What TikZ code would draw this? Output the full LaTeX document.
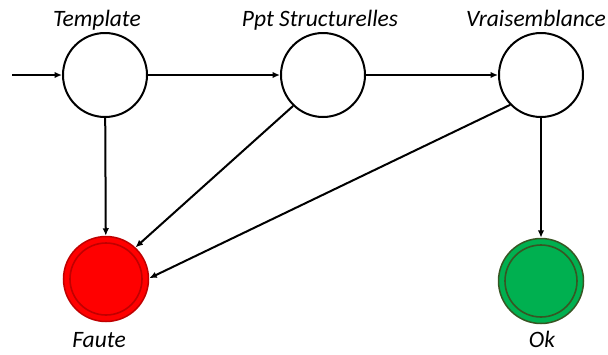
\documentclass[tikz,border=0pt]{standalone}
\usepackage{fontspec}
\setmainfont{Carlito}
\usetikzlibrary{arrows.meta}
\definecolor{fred}{HTML}{FF0000}
\definecolor{fredb}{HTML}{C00000}
\definecolor{fgreen}{HTML}{00B050}
\definecolor{fgreenb}{HTML}{375623}
\begin{document}
\begin{tikzpicture}[x=1pt,y=-1pt,
  state/.style={circle,draw=black,line width=2pt,minimum size=84pt,inner sep=0pt,fill=white},
  outerc/.style={circle,line width=1.5pt,minimum size=85pt,inner sep=0pt},
  innerc/.style={circle,line width=1.6pt,minimum size=72pt,inner sep=0pt},
  lab/.style={font=\fontsize{23.5}{26}\selectfont\itshape},
  edge/.style={line width=2pt,-{Latex[length=7.5pt,width=6.5pt]}}]
\useasboundingbox (0,0) rectangle (608,354);
\node[state] (t) at (105,75) {};
\node[state] (p) at (323,75) {};
\node[state] (v) at (541,75) {};
\node[outerc,fill=fred,draw=fredb] (f) at (106,279) {};
\node[innerc,draw=fredb] (fi) at (f) {};
\node[outerc,fill=fgreen,draw=fgreenb] (o) at (541,281) {};
\node[innerc,draw=fgreenb] (oi) at (o) {};
\node[lab,anchor=base] (tl) at (97,26) {Template};
\node[lab,anchor=base] (pl) at (320,26) {Ppt Structurelles};
\node[lab,anchor=base] (vl) at (536,26) {Vraisemblance};
\node[lab,anchor=base] (fl) at (99,347) {Faute};
\node[lab,anchor=base] (ol) at (542,347) {Ok};
\coordinate (s) at (12,75);
\draw[edge] (s) -- (t);
\draw[edge] (t) -- (p);
\draw[edge] (p) -- (v);
\draw[edge] (t) -- (f);
\draw[edge] (p.226) -- (f.47);
\draw[edge] (v.224) -- (f.1);
\draw[edge] (v) -- (o);
\end{tikzpicture}
\end{document}
